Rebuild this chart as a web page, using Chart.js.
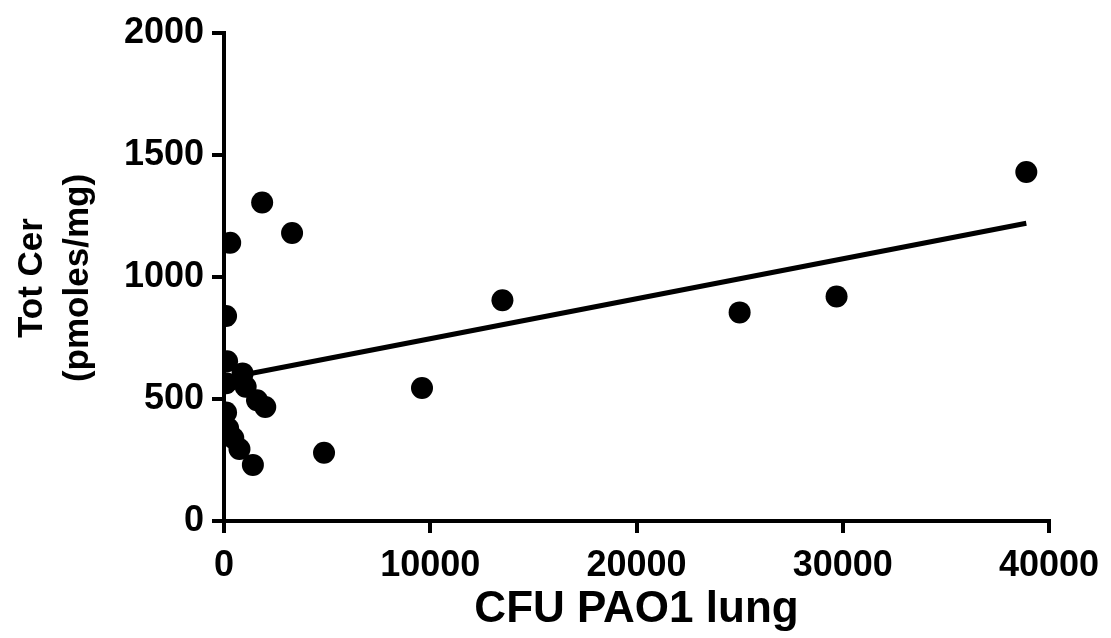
<!DOCTYPE html>
<html>
<head>
<meta charset="utf-8">
<script src="https://cdn.jsdelivr.net/npm/chart.js@4/dist/chart.umd.min.js"></script>
<style>
  html, body { margin: 0; padding: 0; background: #ffffff; }
  #wrap { width: 1111px; height: 638px; position: relative; }
</style>
</head>
<body>
<div id="wrap"><canvas id="c" width="1111" height="638"></canvas></div>
<script>
// ---- data ----
const cfuValues = [38900, 29700, 25000, 13500, 9600, 4850, 3300, 1850, 300, 100, 150, 900, 100, 1050, 1600, 2000, 100, 200, 450, 750, 1400];
const cerValues = [1430, 920, 855, 905, 545, 280, 1180, 1305, 1140, 840, 655, 605, 565, 550, 495, 467, 445, 380, 340, 295, 230];
const fitX = [100, 38900];
const fitY = [585, 1220];
const xTicks = [0, 10000, 20000, 30000, 40000];
const yTicks = [0, 500, 1000, 1500, 2000];
const xTitle = 'CFU PAO1 lung';
const yTitleLines = ['Tot Cer', '(pmoles/mg)'];

const FONT = '"Liberation Sans", Arial, Helvetica, sans-serif';

const pointData = cfuValues.map((v, i) => ({ x: v, y: cerValues[i] }));
const fitData = fitX.map((v, i) => ({ x: v, y: fitY[i] }));

const yTitlePlugin = {
  id: 'yTitle',
  afterDraw(chart) {
    const ctx = chart.ctx;
    ctx.save();
    ctx.fillStyle = '#000';
    ctx.font = 'bold 35px ' + FONT;
    ctx.textAlign = 'center';
    ctx.textBaseline = 'alphabetic';
    const cy = 278;
    const baselines = [42, 88];
    yTitleLines.forEach((t, i) => {
      ctx.save();
      ctx.translate(baselines[i], cy);
      ctx.rotate(-Math.PI / 2);
      ctx.fillText(t, 0, 0);
      ctx.restore();
    });
    ctx.restore();
  }
};

new Chart(document.getElementById('c'), {
  type: 'scatter',
  data: {
    datasets: [
      {
        label: 'data',
        data: pointData,
        backgroundColor: '#000',
        borderColor: '#000',
        borderWidth: 0,
        pointRadius: 11,
        pointHoverRadius: 11,
        order: 0
      },
      {
        type: 'line',
        label: 'fit',
        data: fitData,
        borderColor: '#000',
        borderWidth: 5,
        pointRadius: 0,
        fill: false,
        tension: 0,
        order: 1
      }
    ]
  },
  plugins: [yTitlePlugin],
  options: {
    responsive: false,
    animation: false,
    events: [],
    layout: { padding: { top: 33, right: 62, left: 0, bottom: 0 } },
    plugins: { legend: { display: false }, tooltip: { enabled: false } },
    scales: {
      x: {
        type: 'linear',
        min: xTicks[0],
        max: xTicks[xTicks.length - 1],
        afterBuildTicks: (s) => { s.ticks = xTicks.map(v => ({ value: v })); },
        afterFit: (s) => { s.height = 117; },
        ticks: {
          color: '#000',
          font: { family: FONT, size: 36, weight: 'bold' },
          padding: 11,
          maxRotation: 0,
          autoSkip: false,
          callback: (v) => String(v)
        },
        grid: { display: true, drawOnChartArea: false, drawTicks: true, tickLength: 12, lineWidth: 4, color: '#000' },
        border: { display: true, width: 4, color: '#000' },
        title: {
          display: true,
          text: xTitle,
          color: '#000',
          font: { family: FONT, size: 44, weight: 'bold' },
          padding: { top: 0, bottom: 2 }
        }
      },
      y: {
        type: 'linear',
        min: yTicks[0],
        max: yTicks[yTicks.length - 1],
        afterBuildTicks: (s) => { s.ticks = yTicks.map(v => ({ value: v })); },
        afterFit: (s) => { s.width = 224; },
        ticks: {
          color: '#000',
          font: { family: FONT, size: 36, weight: 'bold' },
          padding: 8,
          autoSkip: false,
          callback: (v) => String(v)
        },
        grid: { display: true, drawOnChartArea: false, drawTicks: true, tickLength: 12, lineWidth: 4, color: '#000' },
        border: { display: true, width: 4, color: '#000' },
        title: { display: false }
      }
    }
  }
});
</script>
</body>
</html>
